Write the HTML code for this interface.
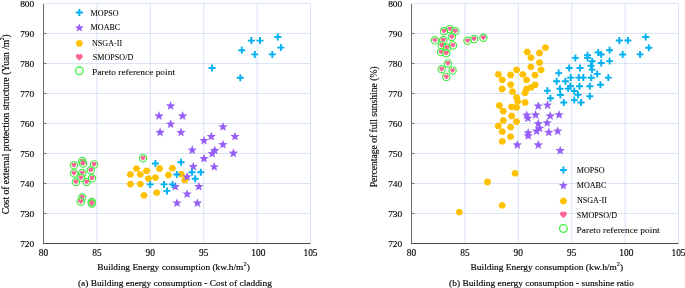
<!DOCTYPE html>
<html><head><meta charset="utf-8"><title>Pareto fronts</title>
<style>html,body{margin:0;padding:0;background:#fff;}svg{display:block;will-change:transform}</style>
</head><body>
<svg width="685" height="288" viewBox="0 0 685 288">
<style>
text{font-family:"Liberation Serif",serif;fill:#000;stroke:#000;stroke-width:0.15px;paint-order:stroke}
.tk{font-size:9.4px}
.lg{font-size:8.1px;stroke-width:0.05px}
.lg2{font-size:9.42px;stroke-width:0.05px}
.ax{font-size:9.4px}
</style>
<defs>
<path id="pl" d="M-3.5,0H3.5M0,-3.5V3.5" stroke="#00b0f0" stroke-width="1.9" fill="none"/>
<path id="st" d="M0,-4.5 L1.23,-1.3 L4.66,-1.11 L2,1.05 L2.88,4.36 L0,2.5 L-2.88,4.36 L-2,1.05 L-4.66,-1.11 L-1.23,-1.3Z" fill="#955ff8"/>
<polygon id="hx" points="3.8,0 1.9,3.13 -1.9,3.13 -3.8,0 -1.9,-3.13 1.9,-3.13" fill="#ffc000"/>
<path id="ht" d="M0,2.38 C-0.65,1.73 -2.48,0.43 -2.48,-0.76 C-2.48,-1.84 -1.62,-2.38 -0.97,-2.38 C-0.43,-2.38 0,-1.94 0,-1.51 C0,-1.94 0.43,-2.38 0.97,-2.38 C1.62,-2.38 2.48,-1.84 2.48,-0.76 C2.48,0.43 0.65,1.73 0,2.38Z" fill="#ff6496"/>
<circle id="ci" r="3.65" fill="none" stroke="#40ee40" stroke-width="1.15"/>
<path id="lpl" d="M-3.5,0H3.5M0,-3.5V3.5" stroke="#00b0f0" stroke-width="2" fill="none"/>
<path id="lst" d="M0,-4.3 L1.15,-1.18 L4.47,-1.05 L1.85,1 L2.76,4.2 L0,2.35 L-2.76,4.2 L-1.85,1 L-4.47,-1.05 L-1.15,-1.18Z" fill="#955ff8"/>
<polygon id="lhx" points="3.8,0 1.9,3.13 -1.9,3.13 -3.8,0 -1.9,-3.13 1.9,-3.13" fill="#ffc000"/>
<path id="lht" d="M0,3.3 C-0.9,2.4 -3.45,0.6 -3.45,-1.05 C-3.45,-2.55 -2.25,-3.3 -1.35,-3.3 C-0.6,-3.3 0,-2.7 0,-2.1 C0,-2.7 0.6,-3.3 1.35,-3.3 C2.25,-3.3 3.45,-2.55 3.45,-1.05 C3.45,0.6 0.9,2.4 0,3.3Z" fill="#ff6496"/>
<circle id="lci" r="3.8" fill="none" stroke="#40ee40" stroke-width="1.3"/>
</defs>
<rect width="685" height="288" fill="#fff"/>
<path d="M96.9,3.5V243.5M150.3,3.5V243.5M203.7,3.5V243.5M257.1,3.5V243.5M310.5,3.5V243.5M43.5,3.5H310.5M43.5,33.5H310.5M43.5,63.5H310.5M43.5,93.5H310.5M43.5,123.5H310.5M43.5,153.5H310.5M43.5,183.5H310.5M43.5,213.5H310.5" stroke="#d8e3f3" stroke-width="1" fill="none"/>
<path d="M43.5,33.5h3M43.5,63.5h3M43.5,93.5h3M43.5,123.5h3M43.5,153.5h3M43.5,183.5h3M43.5,213.5h3" stroke="#777" stroke-width="1" fill="none"/>
<path d="M43.5,4V243.5" stroke="#6a6a6a" stroke-width="1" fill="none"/>
<path d="M43,243.5H310.5" stroke="#4a4a4a" stroke-width="1.1" fill="none"/>
<text transform="translate(34.2,6.85) scale(1,0.91)" class="tk" text-anchor="end">800</text>
<text transform="translate(34.2,36.85) scale(1,0.91)" class="tk" text-anchor="end">790</text>
<text transform="translate(34.2,66.85) scale(1,0.91)" class="tk" text-anchor="end">780</text>
<text transform="translate(34.2,96.85) scale(1,0.91)" class="tk" text-anchor="end">770</text>
<text transform="translate(34.2,126.85) scale(1,0.91)" class="tk" text-anchor="end">760</text>
<text transform="translate(34.2,156.85) scale(1,0.91)" class="tk" text-anchor="end">750</text>
<text transform="translate(34.2,186.85) scale(1,0.91)" class="tk" text-anchor="end">740</text>
<text transform="translate(34.2,216.85) scale(1,0.91)" class="tk" text-anchor="end">730</text>
<text transform="translate(34.2,246.85) scale(1,0.91)" class="tk" text-anchor="end">720</text>
<text transform="translate(43.5,255.7) scale(1,1)" class="tk" text-anchor="middle">80</text>
<text transform="translate(96.9,255.7) scale(1,1)" class="tk" text-anchor="middle">85</text>
<text transform="translate(150.3,255.7) scale(1,1)" class="tk" text-anchor="middle">90</text>
<text transform="translate(203.7,255.7) scale(1,1)" class="tk" text-anchor="middle">95</text>
<text transform="translate(258.4,255.7) scale(1,1)" class="tk" text-anchor="middle">100</text>
<text transform="translate(310.5,255.7) scale(1,1)" class="tk" text-anchor="middle">105</text>
<path d="M464.9,3.5V243.5M518.3,3.5V243.5M571.7,3.5V243.5M625.1,3.5V243.5M678.5,3.5V243.5M411.5,3.5H678.5M411.5,33.5H678.5M411.5,63.5H678.5M411.5,93.5H678.5M411.5,123.5H678.5M411.5,153.5H678.5M411.5,183.5H678.5M411.5,213.5H678.5" stroke="#d8e3f3" stroke-width="1" fill="none"/>
<path d="M411.5,33.5h3M411.5,63.5h3M411.5,93.5h3M411.5,123.5h3M411.5,153.5h3M411.5,183.5h3M411.5,213.5h3" stroke="#777" stroke-width="1" fill="none"/>
<path d="M411.5,4V243.5" stroke="#6a6a6a" stroke-width="1" fill="none"/>
<path d="M411,243.5H678.5" stroke="#4a4a4a" stroke-width="1.1" fill="none"/>
<text transform="translate(402.2,6.85) scale(1,0.91)" class="tk" text-anchor="end">800</text>
<text transform="translate(402.2,36.85) scale(1,0.91)" class="tk" text-anchor="end">790</text>
<text transform="translate(402.2,66.85) scale(1,0.91)" class="tk" text-anchor="end">780</text>
<text transform="translate(402.2,96.85) scale(1,0.91)" class="tk" text-anchor="end">770</text>
<text transform="translate(402.2,126.85) scale(1,0.91)" class="tk" text-anchor="end">760</text>
<text transform="translate(402.2,156.85) scale(1,0.91)" class="tk" text-anchor="end">750</text>
<text transform="translate(402.2,186.85) scale(1,0.91)" class="tk" text-anchor="end">740</text>
<text transform="translate(402.2,216.85) scale(1,0.91)" class="tk" text-anchor="end">730</text>
<text transform="translate(402.2,246.85) scale(1,0.91)" class="tk" text-anchor="end">720</text>
<text transform="translate(411.5,255.7) scale(1,1)" class="tk" text-anchor="middle">80</text>
<text transform="translate(464.9,255.7) scale(1,1)" class="tk" text-anchor="middle">85</text>
<text transform="translate(518.3,255.7) scale(1,1)" class="tk" text-anchor="middle">90</text>
<text transform="translate(571.7,255.7) scale(1,1)" class="tk" text-anchor="middle">95</text>
<text transform="translate(626.4,255.7) scale(1,1)" class="tk" text-anchor="middle">100</text>
<text transform="translate(678.5,255.7) scale(1,1)" class="tk" text-anchor="middle">105</text>
<g transform="translate(0,0.2)">
<use href="#hx" x="130.4" y="174.2"/>
<use href="#hx" x="130.4" y="183.9"/>
<use href="#hx" x="136.5" y="168.5"/>
<use href="#hx" x="140.3" y="174.2"/>
<use href="#hx" x="140.3" y="183.9"/>
<use href="#hx" x="144" y="195.1"/>
<use href="#hx" x="146.6" y="170.6"/>
<use href="#hx" x="148.5" y="178.4"/>
<use href="#hx" x="155.4" y="177.4"/>
<use href="#hx" x="156.7" y="192.5"/>
<use href="#hx" x="159.5" y="168.3"/>
<use href="#hx" x="168.4" y="174.8"/>
<use href="#hx" x="172.4" y="168"/>
<use href="#hx" x="181.2" y="174"/>
<use href="#hx" x="184.8" y="180"/>
<use href="#st" x="170.6" y="105.4"/>
<use href="#st" x="159" y="115.4"/>
<use href="#st" x="182.6" y="115.4"/>
<use href="#st" x="170.6" y="123.6"/>
<use href="#st" x="160.1" y="131.9"/>
<use href="#st" x="181" y="131.9"/>
<use href="#st" x="223" y="126.3"/>
<use href="#st" x="211.3" y="136"/>
<use href="#st" x="204" y="140.1"/>
<use href="#st" x="223" y="144"/>
<use href="#st" x="235" y="136"/>
<use href="#st" x="192.2" y="149.6"/>
<use href="#st" x="214.8" y="149.9"/>
<use href="#st" x="212.2" y="153"/>
<use href="#st" x="233.4" y="152.7"/>
<use href="#st" x="204" y="158"/>
<use href="#st" x="193.3" y="166.1"/>
<use href="#st" x="214.2" y="166.3"/>
<use href="#st" x="187.1" y="176.3"/>
<use href="#st" x="175.3" y="186"/>
<use href="#st" x="198.9" y="186"/>
<use href="#st" x="187.1" y="193.5"/>
<use href="#st" x="177" y="202.5"/>
<use href="#st" x="197.4" y="202.5"/>
<use href="#pl" x="155.4" y="163.3"/>
<use href="#pl" x="181" y="162"/>
<use href="#pl" x="176.8" y="174.3"/>
<use href="#pl" x="192" y="172"/>
<use href="#pl" x="200.8" y="172"/>
<use href="#pl" x="195.2" y="178.5"/>
<use href="#pl" x="150.2" y="184.2"/>
<use href="#pl" x="164" y="184.2"/>
<use href="#pl" x="172.5" y="184.2"/>
<use href="#pl" x="167" y="190.7"/>
<use href="#pl" x="251.35" y="40.4"/>
<use href="#pl" x="260" y="40.4"/>
<use href="#pl" x="277.8" y="36.8"/>
<use href="#pl" x="280.9" y="47.4"/>
<use href="#pl" x="241.8" y="50"/>
<use href="#pl" x="254.8" y="54.2"/>
<use href="#pl" x="272.3" y="54.2"/>
<use href="#pl" x="240.3" y="77.5"/>
<use href="#pl" x="212.1" y="67.8"/>
<use href="#ht" x="74" y="165.1"/><use href="#ci" x="74" y="165.1"/>
<use href="#ht" x="82.3" y="160.9"/><use href="#ci" x="82.3" y="160.9"/>
<use href="#ht" x="83" y="163.3"/><use href="#ci" x="83" y="163.3"/>
<use href="#ht" x="94.1" y="164.2"/><use href="#ci" x="94.1" y="164.2"/>
<use href="#ht" x="90.8" y="170"/><use href="#ci" x="90.8" y="170"/>
<use href="#ht" x="74" y="173.1"/><use href="#ci" x="74" y="173.1"/>
<use href="#ht" x="82.4" y="172.9"/><use href="#ci" x="82.4" y="172.9"/>
<use href="#ht" x="80.9" y="177.6"/><use href="#ci" x="80.9" y="177.6"/>
<use href="#ht" x="92" y="178"/><use href="#ci" x="92" y="178"/>
<use href="#ht" x="75.9" y="181.8"/><use href="#ci" x="75.9" y="181.8"/>
<use href="#ht" x="86.6" y="181.8"/><use href="#ci" x="86.6" y="181.8"/>
<use href="#ht" x="82.2" y="197.3"/><use href="#ci" x="82.2" y="197.3"/>
<use href="#ht" x="80.7" y="201.5"/><use href="#ci" x="80.7" y="201.5"/>
<use href="#ht" x="91.8" y="201.8"/><use href="#ci" x="91.8" y="201.8"/>
<use href="#ht" x="91.8" y="203.3"/><use href="#ci" x="91.8" y="203.3"/>
<use href="#ht" x="143" y="158.1"/><use href="#ci" x="143" y="158.1"/>
<use href="#hx" x="459.3" y="212"/>
<use href="#hx" x="487.5" y="181.8"/>
<use href="#hx" x="502.2" y="205.2"/>
<use href="#hx" x="515.1" y="173.1"/>
<use href="#hx" x="498.4" y="74.2"/>
<use href="#hx" x="502.3" y="79.6"/>
<use href="#hx" x="510.6" y="74.8"/>
<use href="#hx" x="516.6" y="69.6"/>
<use href="#hx" x="522.8" y="74.2"/>
<use href="#hx" x="526.6" y="79.7"/>
<use href="#hx" x="530.9" y="66.7"/>
<use href="#hx" x="531" y="57.5"/>
<use href="#hx" x="527.2" y="51.8"/>
<use href="#hx" x="535" y="75"/>
<use href="#hx" x="539.5" y="62.4"/>
<use href="#hx" x="539.5" y="52.8"/>
<use href="#hx" x="545.5" y="47.4"/>
<use href="#hx" x="541" y="69.6"/>
<use href="#hx" x="510.7" y="84.4"/>
<use href="#hx" x="502.2" y="88.8"/>
<use href="#hx" x="512.6" y="91.5"/>
<use href="#hx" x="535.1" y="84.6"/>
<use href="#hx" x="531.2" y="87.2"/>
<use href="#hx" x="526.6" y="88.8"/>
<use href="#hx" x="525" y="92.7"/>
<use href="#hx" x="516.6" y="97.1"/>
<use href="#hx" x="517.7" y="101.2"/>
<use href="#hx" x="525.1" y="102.3"/>
<use href="#hx" x="499.4" y="105.3"/>
<use href="#hx" x="511.6" y="106.6"/>
<use href="#hx" x="516.6" y="107.2"/>
<use href="#hx" x="503.3" y="110.9"/>
<use href="#hx" x="511.7" y="115.8"/>
<use href="#hx" x="503.3" y="120.3"/>
<use href="#hx" x="516.6" y="121.4"/>
<use href="#hx" x="498.3" y="125.7"/>
<use href="#hx" x="510.6" y="127"/>
<use href="#hx" x="502.3" y="131.5"/>
<use href="#hx" x="510.6" y="136.5"/>
<use href="#hx" x="502.3" y="141.1"/>
<use href="#st" x="538.2" y="105.5"/>
<use href="#st" x="547.5" y="104.6"/>
<use href="#st" x="526.7" y="114.6"/>
<use href="#st" x="527.9" y="117.6"/>
<use href="#st" x="535.6" y="114.4"/>
<use href="#st" x="550.2" y="115.4"/>
<use href="#st" x="559.1" y="114.3"/>
<use href="#st" x="538.3" y="123.1"/>
<use href="#st" x="547.2" y="122.3"/>
<use href="#st" x="539.5" y="127.8"/>
<use href="#st" x="536.6" y="130.6"/>
<use href="#st" x="548.8" y="131.8"/>
<use href="#st" x="557.7" y="130.6"/>
<use href="#st" x="528.2" y="132.3"/>
<use href="#st" x="528.2" y="135.3"/>
<use href="#st" x="517.3" y="144.4"/>
<use href="#st" x="538.3" y="144.4"/>
<use href="#st" x="560.2" y="150"/>
<use href="#pl" x="619.3" y="40.3"/>
<use href="#pl" x="627.9" y="40.3"/>
<use href="#pl" x="645.7" y="36.8"/>
<use href="#pl" x="648.8" y="47.6"/>
<use href="#pl" x="622.7" y="54.3"/>
<use href="#pl" x="640.1" y="54.2"/>
<use href="#pl" x="609.6" y="50"/>
<use href="#pl" x="609.6" y="60.9"/>
<use href="#pl" x="601.2" y="54.3"/>
<use href="#pl" x="598.2" y="52.3"/>
<use href="#pl" x="587.5" y="55"/>
<use href="#pl" x="587.5" y="57.7"/>
<use href="#pl" x="575.4" y="57.7"/>
<use href="#pl" x="592.2" y="61"/>
<use href="#pl" x="601.2" y="62.8"/>
<use href="#pl" x="569.2" y="67.8"/>
<use href="#pl" x="580.1" y="67.8"/>
<use href="#pl" x="591" y="65.5"/>
<use href="#pl" x="592" y="69.4"/>
<use href="#pl" x="558.7" y="72.9"/>
<use href="#pl" x="597.2" y="73.7"/>
<use href="#pl" x="608.3" y="77.4"/>
<use href="#pl" x="570.7" y="77.4"/>
<use href="#pl" x="578.8" y="77.4"/>
<use href="#pl" x="583.3" y="77.4"/>
<use href="#pl" x="591.3" y="77.5"/>
<use href="#pl" x="556.7" y="81"/>
<use href="#pl" x="565.4" y="81"/>
<use href="#pl" x="579.5" y="86"/>
<use href="#pl" x="589.8" y="86.1"/>
<use href="#pl" x="600.4" y="84.6"/>
<use href="#pl" x="570.4" y="85.8"/>
<use href="#pl" x="559.9" y="88.5"/>
<use href="#pl" x="568.2" y="88.4"/>
<use href="#pl" x="574.2" y="90.8"/>
<use href="#pl" x="578" y="94.5"/>
<use href="#pl" x="547.3" y="90.6"/>
<use href="#pl" x="560.4" y="94.8"/>
<use href="#pl" x="589.8" y="96"/>
<use href="#pl" x="550.4" y="98"/>
<use href="#pl" x="574.3" y="99.9"/>
<use href="#pl" x="563.8" y="102.3"/>
<use href="#pl" x="581" y="102.3"/>
<use href="#ht" x="444" y="31"/><use href="#ci" x="444" y="31"/>
<use href="#ht" x="449.9" y="28.9"/><use href="#ci" x="449.9" y="28.9"/>
<use href="#ht" x="455.25" y="31"/><use href="#ci" x="455.25" y="31"/>
<use href="#ht" x="451.8" y="36.8"/><use href="#ci" x="451.8" y="36.8"/>
<use href="#ht" x="434.9" y="40.1"/><use href="#ci" x="434.9" y="40.1"/>
<use href="#ht" x="443.3" y="40"/><use href="#ci" x="443.3" y="40"/>
<use href="#ht" x="441.7" y="45.2"/><use href="#ci" x="441.7" y="45.2"/>
<use href="#ht" x="447" y="47.5"/><use href="#ci" x="447" y="47.5"/>
<use href="#ht" x="453" y="45.2"/><use href="#ci" x="453" y="45.2"/>
<use href="#ht" x="441.1" y="51.9"/><use href="#ci" x="441.1" y="51.9"/>
<use href="#ht" x="446.2" y="53"/><use href="#ci" x="446.2" y="53"/>
<use href="#ht" x="447.9" y="63.2"/><use href="#ci" x="447.9" y="63.2"/>
<use href="#ht" x="441.7" y="69.1"/><use href="#ci" x="441.7" y="69.1"/>
<use href="#ht" x="452.6" y="70.4"/><use href="#ci" x="452.6" y="70.4"/>
<use href="#ht" x="446.3" y="76.7"/><use href="#ci" x="446.3" y="76.7"/>
<use href="#ht" x="467.5" y="40.6"/><use href="#ci" x="467.5" y="40.6"/>
<use href="#ht" x="474.1" y="38.75"/><use href="#ci" x="474.1" y="38.75"/>
<use href="#ht" x="483.4" y="37.5"/><use href="#ci" x="483.4" y="37.5"/>
</g>
<use href="#lpl" x="79.35" y="12.4"/>
<text transform="translate(90.6,15.5) scale(1,0.91)" class="lg">MOPSO</text>
<use href="#lst" x="79.35" y="27.45"/>
<text transform="translate(90.6,30.4) scale(1,0.91)" class="lg">MOABC</text>
<use href="#lhx" x="79.35" y="43.4"/>
<text transform="translate(92,45.6) scale(1,0.91)" class="lg">NSGA-II</text>
<use href="#lht" x="79.35" y="57.2"/>
<text transform="translate(92.8,60.3) scale(1,0.91)" class="lg">SMOPSO/D</text>
<use href="#lci" x="79.35" y="70.8"/>
<text transform="translate(91.9,75.2) scale(1,0.91)" class="lg2">Pareto reference point</text>
<use href="#lpl" x="563.4" y="170"/>
<text transform="translate(576.7,173) scale(1,0.91)" class="lg">MOPSO</text>
<use href="#lst" x="563.4" y="185.3"/>
<text transform="translate(576.7,188) scale(1,0.91)" class="lg">MOABC</text>
<use href="#lhx" x="563.4" y="201"/>
<text transform="translate(576.9,203.1) scale(1,0.91)" class="lg">NSGA-II</text>
<use href="#lht" x="563.4" y="214.7"/>
<text transform="translate(576.7,218) scale(1,0.91)" class="lg">SMOPSO/D</text>
<use href="#lci" x="563.4" y="228.5"/>
<text transform="translate(576.6,233.1) scale(1,0.91)" class="lg2">Pareto reference point</text>
<text transform="translate(97.2,270.1) scale(1,0.91)" class="ax">Building Energy consumption (kw.h/m<tspan font-size="6.5" dy="-4.6">2</tspan><tspan dy="4.6">)</tspan></text>
<text transform="translate(470.6,270.1) scale(1,0.91)" class="ax">Building Energy consumption (kw.h/m<tspan font-size="6.5" dy="-4.6">2</tspan><tspan dy="4.6">)</tspan></text>
<text transform="translate(77.9,286.1) scale(1,0.91)" class="ax">(a) Building energy consumption - Cost of cladding</text>
<text transform="translate(449.1,286.1) scale(1,0.91)" class="ax">(b) Building energy consumption - sunshine ratio</text>
<text transform="translate(8.7,214.2) rotate(-90) scale(0.94,1)" class="ax" style="font-size:10.1px">Cost of external protection structure (Yuan /m<tspan font-size="6" dx="-0.6" dy="-4.3">2</tspan><tspan dy="4.3">)</tspan></text>
<text transform="translate(377.0,187.3) rotate(-90) scale(0.95,1)" class="ax" style="font-size:10.1px">Percentage of full sunshine (%)</text>
</svg>
</body></html>
